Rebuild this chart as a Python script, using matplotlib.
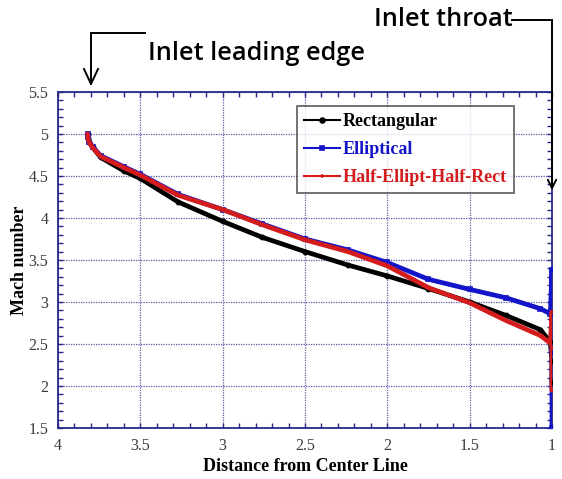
import matplotlib.pyplot as plt
from matplotlib.lines import Line2D
from matplotlib.ticker import MultipleLocator

# distance from center line (x) and Mach number per inlet shape
dist = [3.82, 3.818, 3.81, 3.79, 3.74, 3.6, 3.5, 3.27, 3.0, 2.76, 2.5, 2.24, 2.0,
        1.75, 1.5, 1.28, 1.07, 1.01]

rect_x = dist + [1.0, 1.0]
rect_m = [5.0, 4.95, 4.90, 4.84, 4.72, 4.56, 4.47, 4.19, 3.96, 3.77, 3.60, 3.44, 3.31,
          3.16, 3.0, 2.84, 2.67, 2.52, 2.3, 2.05]

ell_x = dist + [1.0, 1.0, 1.0]
ell_m = [5.0, 4.96, 4.91, 4.85, 4.74, 4.61, 4.52, 4.28, 4.10, 3.93, 3.75, 3.62, 3.47,
         3.27, 3.15, 3.05, 2.92, 2.86, 3.38, 2.4, 1.5]

hybrid_x = dist + [1.0, 1.0, 1.0]
hybrid_m = [5.0, 4.95, 4.90, 4.84, 4.73, 4.60, 4.51, 4.27, 4.10, 3.92, 3.74, 3.60, 3.43,
            3.17, 2.99, 2.78, 2.60, 2.51, 2.88, 2.45, 1.95]

labels = ["Rectangular", "Elliptical", "Half-Ellipt-Half-Rect"]
colors = ["#000000", "#1414c8", "#d41c1c"]
markers = ["o", "s", "+"]

fig = plt.figure(figsize=(5.62, 4.79), dpi=100)
ax = fig.add_axes([0.1032, 0.1065, 0.879, 0.7015])

series = [(rect_x, rect_m), (ell_x, ell_m), (hybrid_x, hybrid_m)]
for (xs, ms), c, mk in zip(series, colors, markers):
    ax.plot(xs, ms, color=c, lw=3.4, marker=mk, ms=3, mew=1.2, zorder=3,
            solid_capstyle="round", solid_joinstyle="round")

ax.set_xlim(4, 1)
ax.set_ylim(1.5, 5.5)
ax.xaxis.set_minor_locator(MultipleLocator(0.1))
ax.yaxis.set_minor_locator(MultipleLocator(0.1))
ax.set_xticks([4, 3.5, 3, 2.5, 2, 1.5, 1])
ax.set_xticklabels(["4", "3.5", "3", "2.5", "2", "1.5", "1"])
ax.set_yticks([1.5, 2, 2.5, 3, 3.5, 4, 4.5, 5, 5.5])
ax.set_yticklabels(["1.5", "2", "2.5", "3", "3.5", "4", "4.5", "5", "5.5"])

navy = "#28288a"
for s in ax.spines.values():
    s.set_color(navy)
    s.set_linewidth(1.3)
ax.tick_params(which="both", direction="in", top=True, right=True, color=navy,
               labelcolor="#3a3a3a", labelsize=11.5, length=3.8, width=1)
ax.tick_params(axis="x", pad=7)
ax.tick_params(axis="y", pad=7)
for lab in ax.get_xticklabels() + ax.get_yticklabels():
    lab.set_family("Liberation Serif")
ax.grid(True, which="major", color="#5a5aa8", ls=(0, (1, 1)), lw=0.9)

ax.set_xlabel("Distance from Center Line", family="Liberation Serif",
              fontweight="bold", fontsize=13, labelpad=3)
ax.set_ylabel("Mach number", family="Liberation Serif", fontweight="bold",
              fontsize=13, labelpad=0)

handles = [Line2D([], [], color=c, lw=1.5, marker=mk, ms=3.5, mew=1.2)
           for c, mk in zip(colors, markers)]
leg = ax.legend(handles, labels, loc="upper right", bbox_to_anchor=(0.923, 0.958),
                prop={"family": "Liberation Serif", "weight": "bold", "size": 13},
                frameon=True, fancybox=False, handlelength=2.0, handletextpad=0.15,
                labelspacing=0.6, borderpad=0.4, borderaxespad=0)
leg.get_frame().set_edgecolor("#333333")
leg.get_frame().set_linewidth(1.2)
for t, c in zip(leg.get_texts(), colors):
    t.set_color(c)
leg.set_zorder(5)

# annotations above the axes, in figure pixel coordinates
def px(x, y):
    return (x / 562, 1 - y / 479)

fig.text(*px(148, 53), "Inlet leading edge", family="Open Sans", fontweight="semibold",
         fontsize=18.2, ha="left", va="center")
fig.text(*px(374, 19), "Inlet throat", family="Open Sans", fontweight="semibold",
         fontsize=18.2, ha="left", va="center")
line_kw = dict(color="black", lw=1.4, transform=fig.transFigure)
fig.add_artist(Line2D([px(91, 0)[0], px(145, 0)[0]], [px(0, 33)[1]] * 2, **line_kw))
fig.add_artist(Line2D([px(512, 0)[0], px(551.5, 0)[0]], [px(0, 20)[1]] * 2, **line_kw))
fig.add_artist(Line2D([px(551.5, 0)[0]] * 2, [px(0, 20)[1], px(0, 92)[1]], **line_kw))
fig.add_artist(Line2D([px(91, 0)[0]] * 2, [px(0, 33)[1], px(0, 84)[1]], **line_kw))
fig.add_artist(Line2D([px(84, 0)[0], px(91, 0)[0], px(98, 0)[0]],
                      [px(0, 69)[1], px(0, 84)[1], px(0, 69)[1]], **line_kw))
ax.annotate("", xy=(1.0, 4.33), xytext=(1.0, 5.51),
            arrowprops=dict(arrowstyle="->,head_length=0.6,head_width=0.3",
                            color="black", lw=1.4, shrinkA=0, shrinkB=0),
            annotation_clip=False, zorder=6)

fig.savefig("out.png", dpi=100)
